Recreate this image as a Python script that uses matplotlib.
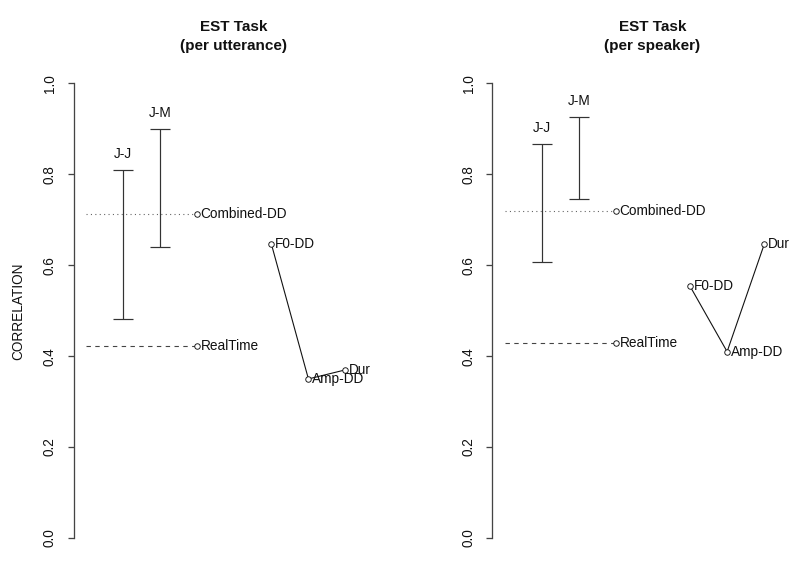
import matplotlib
matplotlib.use("Agg")
import numpy as np
import matplotlib.pyplot as plt

# ── Data ─────────────────────────────────────────────────────────────────────

panel_titles   = ["EST Task\n(per utterance)", "EST Task\n(per speaker)"]
range_labels   = ["J-J", "J-M"]
range_x        = [1, 2]
range_lo       = [[0.481, 0.641], [0.608, 0.745]]
range_hi       = [[0.809, 0.900], [0.867, 0.926]]

baseline_x     = 3
combined_dd    = [0.712, 0.720]
realtime       = [0.423, 0.428]

feat_labels    = ["F0-DD", "Amp-DD", "Dur"]
feat_x         = [5, 6, 7]
feat_vals      = [[0.647, 0.350, 0.370], [0.554, 0.410, 0.646]]

yticks         = [0.0, 0.2, 0.4, 0.6, 0.8, 1.0]

# ── Style ────────────────────────────────────────────────────────────────────

plt.rcParams["font.family"] = ["Liberation Sans", "DejaVu Sans"]
plt.rcParams["font.size"]   = 9.8
INK  = "#111111"
AXC  = "#444444"
PX   = 0.72  # one pixel in points at 100 dpi
FS   = 9.8

fig = plt.figure(figsize=(8, 5.62), dpi=100)

W, H = 800, 562
ax_w, ax_h   = 320, 490.9
ax_bottom    = (H - 556.2) / H
lefts        = [73.7, 492.4]


def label_right(ax, x, y, text):
    ax.annotate(text, (x, y), xytext=(3.5 * PX, 0), textcoords="offset points",
                ha="left", va="center", color=INK, fontsize=FS)


for i, left in enumerate(lefts):
    ax = fig.add_axes([left / W, ax_bottom, ax_w / W, ax_h / H])
    ax.set_xlim(-0.33, 8.3)
    ax.set_ylim(-0.04, 1.04)

    # range bars
    lo = np.array(range_lo[i])
    hi = np.array(range_hi[i])
    mid = (lo + hi) / 2
    ax.errorbar(range_x, mid, yerr=(hi - lo) / 2, fmt="none", ecolor="#333333",
                elinewidth=1.2 * PX, capsize=7.2, capthick=1.2 * PX)
    for x, h, lab in zip(range_x, hi, range_labels):
        ax.annotate(lab, (x, h), xytext=(0, 12 * PX), textcoords="offset points",
                    ha="center", va="baseline", color=INK, fontsize=FS)

    # baselines
    ax.plot([0, baseline_x], [combined_dd[i]] * 2, color="#666666",
            lw=1.1 * PX, dashes=(1, 3))
    ax.plot([0, baseline_x], [realtime[i]] * 2, color="#444444",
            lw=1.1 * PX, dashes=(4, 4))
    ax.plot([baseline_x, baseline_x], [combined_dd[i], realtime[i]], "o",
            ms=5.5 * PX, mfc="white", mec=INK, mew=0.9 * PX)
    label_right(ax, baseline_x, combined_dd[i], "Combined-DD")
    label_right(ax, baseline_x, realtime[i], "RealTime")

    # feature line
    ax.plot(feat_x, feat_vals[i], "-o", color=INK, lw=1.1 * PX,
            ms=5.5 * PX, mfc="white", mec=INK, mew=0.9 * PX)
    for x, v, lab in zip(feat_x, feat_vals[i], feat_labels):
        label_right(ax, x, v, lab)

    # axes
    for s in ["top", "right", "bottom"]:
        ax.spines[s].set_visible(False)
    ax.spines["left"].set_bounds(0, 1)
    ax.spines["left"].set_color(AXC)
    ax.spines["left"].set_linewidth(1.3 * PX)
    ax.set_xticks([])
    ax.set_yticks(yticks)
    ax.set_yticklabels([f"{t:.1f}" for t in yticks])
    ax.tick_params(axis="y", length=6.3 * PX, width=1.3 * PX, color=AXC,
                   pad=10.5 * PX, labelrotation=90, labelsize=FS, labelcolor=INK)
    for t in ax.get_yticklabels():
        t.set_va("center")

    ax.set_title(panel_titles[i], fontsize=11, fontweight="bold",
                 linespacing=1.5, pad=15 * PX, color=INK)

    if i == 0:
        ax.set_ylabel("CORRELATION", fontsize=FS, color=INK, va="center")
        ax.yaxis.set_label_coords((18.5 - left) / ax_w, 0.5)

fig.savefig("out.png", dpi=100)
